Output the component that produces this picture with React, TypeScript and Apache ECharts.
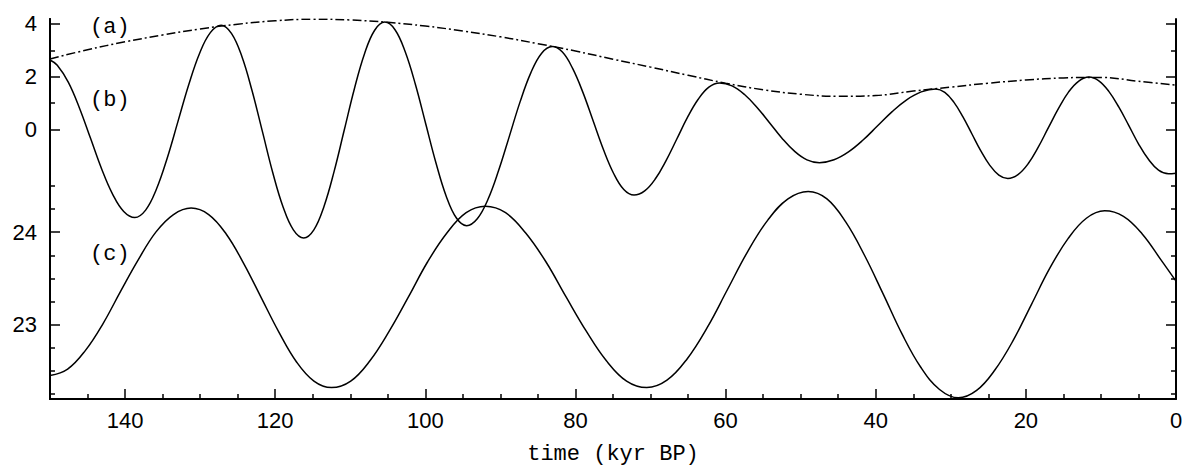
import React, { useEffect, useRef } from "react";
import * as echarts from "echarts";

// (a) eccentricity envelope (upper scale)
const ECC: [number, number][] = [
  [150, 2.67], [145, 3.02], [140, 3.32], [135, 3.58], [130, 3.81], [125, 3.99],
  [120, 4.12], [115, 4.18], [110, 4.15], [105, 4.06], [100, 3.92], [95, 3.73],
  [90, 3.51], [85, 3.25], [80, 2.97], [75, 2.66], [70, 2.36], [65, 2.05],
  [60, 1.75], [55, 1.5], [50, 1.33], [45, 1.25], [40, 1.28], [35, 1.45],
  [30, 1.6], [25, 1.75], [20, 1.87], [15, 1.95], [10, 1.97], [5, 1.82], [0, 1.68],
];

// (b) precession index (upper scale)
const PREC: [number, number][] = [
  [150, 2.63], [149.03, 2.43], [147.55, 1.78], [146.08, 0.81], [144.6, -0.345], [143.13, -1.5], [141.65, -2.47], [140.18, -3.12], [138.7, -3.35],
  [137.26, -3.07], [135.83, -2.28], [134.39, -1.1], [132.95, 0.3], [131.51, 1.7], [130.08, 2.88], [128.64, 3.67], [127.2, 3.95],
  [125.83, 3.64], [124.45, 2.77], [123.08, 1.46], [121.7, -0.09], [120.33, -1.64], [118.95, -2.95], [117.58, -3.82], [116.2, -4.13],
  [114.85, -3.82], [113.5, -2.93], [112.15, -1.6], [110.8, -0.03], [109.45, 1.54], [108.1, 2.87], [106.75, 3.76], [105.4, 4.07],
  [104.04, 3.78], [102.68, 2.94], [101.31, 1.69], [99.95, 0.21], [98.59, -1.27], [97.23, -2.53], [95.86, -3.37], [94.5, -3.66],
  [93.08, -3.4], [91.65, -2.66], [90.23, -1.56], [88.8, -0.26], [87.38, 1.04], [85.95, 2.14], [84.53, 2.88], [83.1, 3.14],
  [81.74, 2.93], [80.38, 2.31], [79.01, 1.4], [77.65, 0.32], [76.29, -0.76], [74.93, -1.67], [73.56, -2.29], [72.2, -2.5],
  [70.78, -2.34], [69.35, -1.88], [67.93, -1.19], [66.5, -0.37], [65.08, 0.45], [63.65, 1.14], [62.23, 1.6], [60.8, 1.76],
  [59.14, 1.65], [57.48, 1.32], [55.81, 0.83], [54.15, 0.25], [52.49, -0.34], [50.83, -0.83], [49.16, -1.16], [47.5, -1.27],
  [45.56, -1.16], [43.63, -0.86], [41.69, -0.41], [39.75, 0.13], [37.81, 0.67], [35.88, 1.12], [33.94, 1.42], [32.0, 1.53],
  [30.8, 1.4], [29.6, 1.03], [28.4, 0.48], [27.2, -0.17], [26.0, -0.82], [24.8, -1.37], [23.6, -1.74], [22.4, -1.87],
  [21.05, -1.72], [19.7, -1.31], [18.35, -0.68], [17.0, 0.06], [15.65, 0.79], [14.3, 1.42], [12.95, 1.83], [11.6, 1.98],
  [10.28, 1.84], [8.95, 1.44], [7.63, 0.85], [6.3, 0.15], [4.98, -0.56], [3.65, -1.15], [2.33, -1.55], [1.0, -1.69], [0, -1.67],
];

// (c) obliquity (lower scale, degrees)
const OBL: [number, number][] = [
  [150, 22.45], [147.65, 22.52], [145.3, 22.72], [142.95, 23.01], [140.6, 23.36], [138.25, 23.7], [135.9, 24.0], [133.55, 24.19], [131.2, 24.26],
  [128.86, 24.19], [126.53, 23.98], [124.19, 23.66], [121.85, 23.29], [119.51, 22.92], [117.18, 22.6], [114.84, 22.39], [112.5, 22.32],
  [109.94, 22.39], [107.38, 22.61], [104.81, 22.93], [102.25, 23.3], [99.69, 23.68], [97.13, 23.99], [94.56, 24.21], [92.0, 24.28],
  [89.31, 24.21], [86.63, 23.99], [83.94, 23.68], [81.25, 23.3], [78.56, 22.93], [75.88, 22.61], [73.19, 22.39], [70.5, 22.32],
  [67.81, 22.4], [65.13, 22.63], [62.44, 22.97], [59.75, 23.38], [57.06, 23.79], [54.38, 24.13], [51.69, 24.36], [49.0, 24.44],
  [46.5, 24.36], [44.0, 24.11], [41.5, 23.75], [39.0, 23.33], [36.5, 22.9], [34.0, 22.54], [31.5, 22.3], [29.0, 22.21],
  [26.56, 22.29], [24.13, 22.51], [21.69, 22.83], [19.25, 23.22], [16.81, 23.61], [14.38, 23.93], [11.94, 24.15], [9.5, 24.23],
  [7.0, 24.17], [4.5, 23.98], [2.0, 23.7], [0, 23.47],
];

const TIME_MAJOR = [140, 120, 100, 80, 60, 40, 20, 0];
const TIME_MINOR = [145, 135, 130, 125, 115, 110, 105, 95, 90, 85, 75, 70, 65, 55, 50, 45, 35, 30, 25, 15, 10, 5];
const UPPER_MAJOR = [4, 2, 0];
const UPPER_MINOR = [3, 1];
const OBL_MAJOR = [24, 23];
const OBL_MINOR = [24.5, 24.25, 23.75, 23.5, 23.25, 22.75, 22.5, 22.25];
const LABELS = ["(a)", "(b)", "(c)"];

const UPPER_RANGE = [-10.243, 4.187];
const OBL_RANGE = [22.197, 26.303];

const SANS = "'Liberation Sans', Arial, sans-serif";
const MONO = "'Liberation Mono', 'Courier New', monospace";

function yAx(range: number[], pos: string, major: boolean, ticks: number[], labels: number[] | null, line: boolean) {
  return {
    type: "value",
    position: pos,
    min: range[0],
    max: range[1],
    splitLine: { show: false },
    axisLine: { show: line, onZero: false, lineStyle: { color: "#000", width: 2 } },
    axisTick: {
      show: true,
      inside: true,
      length: major ? 10 : 5,
      customValues: ticks,
      lineStyle: { color: "#000", width: 1.5 },
    },
    axisLabel: labels
      ? { show: true, customValues: labels, color: "#000", fontFamily: SANS, fontSize: 22, margin: 13 }
      : { show: false },
  };
}

export default function App() {
  const ref = useRef<HTMLDivElement>(null);
  useEffect(() => {
    if (!ref.current) return;
    document.body.style.margin = "0";
    const chart = echarts.init(ref.current, null, { renderer: "svg", width: 1189, height: 470 });
    const option: any = {
      animation: false,
      backgroundColor: "#fff",
      grid: { left: 50, right: 13, top: 19, bottom: 65 },
      xAxis: [
        {
          type: "value",
          min: 0,
          max: 150,
          inverse: true,
          position: "bottom",
          splitLine: { show: false },
          axisLine: { show: true, onZero: false, lineStyle: { color: "#000", width: 2 } },
          axisTick: { show: true, inside: true, length: 10, customValues: TIME_MAJOR, lineStyle: { color: "#000", width: 1.5 } },
          axisLabel: { show: true, customValues: TIME_MAJOR, color: "#000", fontFamily: SANS, fontSize: 22, margin: 10 },
          name: "time (kyr BP)",
          nameLocation: "middle",
          nameGap: 44,
          nameTextStyle: { color: "#000", fontFamily: MONO, fontSize: 22 },
        },
        {
          type: "value",
          min: 0,
          max: 150,
          inverse: true,
          position: "bottom",
          splitLine: { show: false },
          axisLine: { show: false, onZero: false },
          axisTick: { show: true, inside: true, length: 5, customValues: TIME_MINOR, lineStyle: { color: "#000", width: 1.5 } },
          axisLabel: { show: false },
        },
      ],
      yAxis: [
        yAx(UPPER_RANGE, "left", true, UPPER_MAJOR, UPPER_MAJOR, true),
        yAx(OBL_RANGE, "left", true, OBL_MAJOR, OBL_MAJOR, true),
        yAx(UPPER_RANGE, "left", false, UPPER_MINOR, null, false),
        yAx(OBL_RANGE, "left", false, OBL_MINOR, null, false),
        yAx(UPPER_RANGE, "right", true, UPPER_MAJOR, null, true),
        yAx(OBL_RANGE, "right", true, OBL_MAJOR, null, false),
        yAx(UPPER_RANGE, "right", false, UPPER_MINOR, null, false),
        yAx(OBL_RANGE, "right", false, OBL_MINOR, null, false),
      ],
      graphic: [
        { type: "text", x: 90, y: 27, style: { text: LABELS[0], fill: "#000", font: `22px ${MONO}`, verticalAlign: "middle" } },
        { type: "text", x: 90, y: 100, style: { text: LABELS[1], fill: "#000", font: `22px ${MONO}`, verticalAlign: "middle" } },
        { type: "text", x: 90, y: 254, style: { text: LABELS[2], fill: "#000", font: `22px ${MONO}`, verticalAlign: "middle" } },
      ],
      series: [
        {
          name: "eccentricity",
          type: "line",
          xAxisIndex: 0,
          yAxisIndex: 0,
          data: ECC,
          showSymbol: false,
          smooth: 0.4,
          lineStyle: { color: "#000", width: 1.5, type: [9, 3, 2, 3] },
        },
        {
          name: "precession",
          type: "line",
          xAxisIndex: 0,
          yAxisIndex: 0,
          data: PREC,
          showSymbol: false,
          smooth: 0.4,
          lineStyle: { color: "#000", width: 1.5 },
        },
        {
          name: "obliquity",
          type: "line",
          xAxisIndex: 0,
          yAxisIndex: 1,
          data: OBL,
          showSymbol: false,
          smooth: 0.4,
          lineStyle: { color: "#000", width: 1.5 },
        },
      ],
    };
    chart.setOption(option);
    return () => chart.dispose();
  }, []);
  return <div ref={ref} style={{ position: "fixed", left: 0, top: 0, width: 1189, height: 470 }} />;
}
